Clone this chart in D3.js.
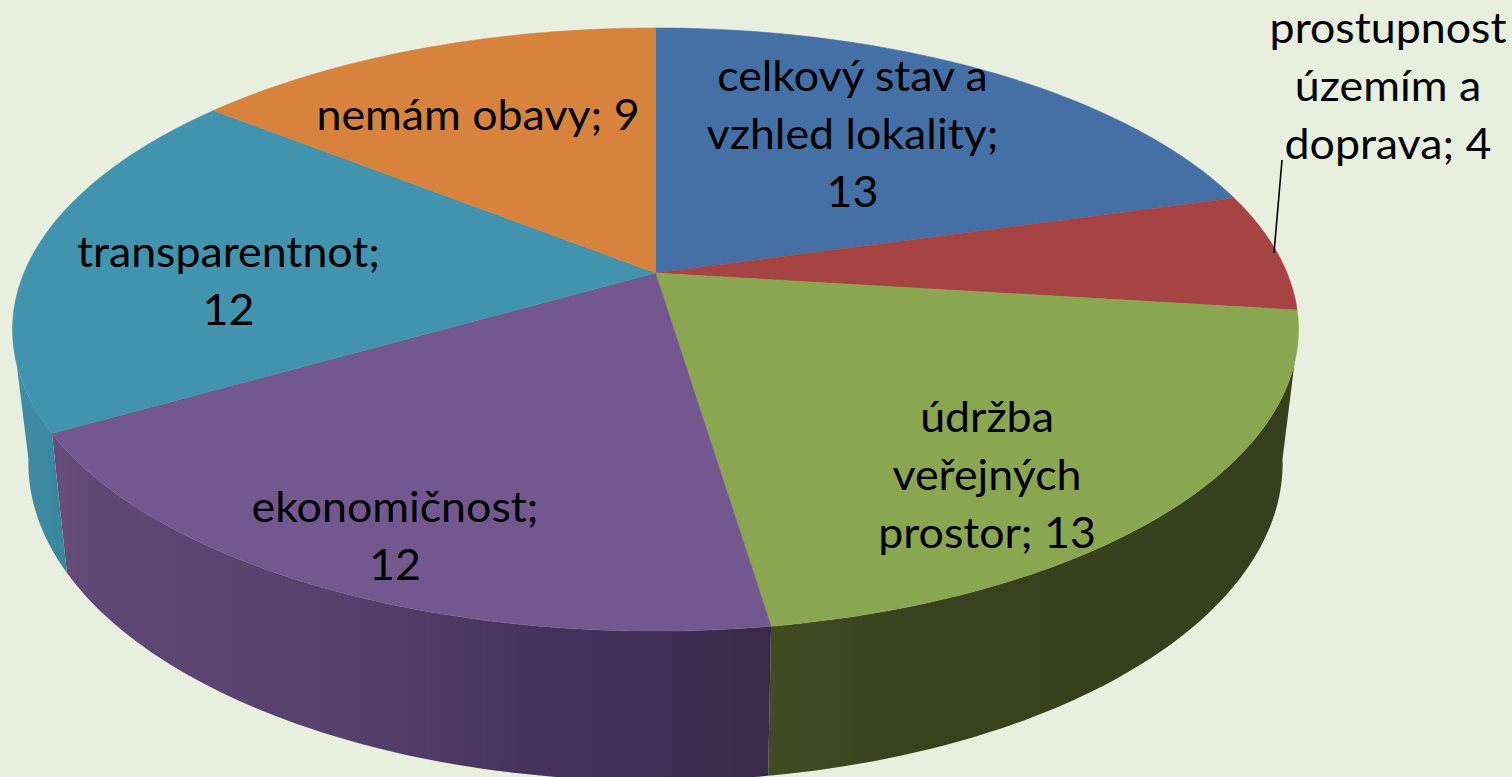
<!DOCTYPE html>
<html><head><meta charset="utf-8">
<script src="https://cdn.jsdelivr.net/npm/d3@7"></script>
<style>html,body{margin:0;padding:0;background:#e9efdf;overflow:hidden}svg{display:block}text{font-family:Lato,"Open Sans",sans-serif;fill:#000}</style>
</head><body><svg id="c" width="1512" height="777"></svg>
<script>
const categories = ["celkový stav a|vzhled lokality;", "prostupnost|územím a|doprava;", "údržba|veřejných|prostor;", "ekonomičnost;", "transparentnot;", "nemám obavy;"];
const values = [13, 4, 13, 12, 12, 9];
const valueOnNewLine = [true, false, false, true, true, false];
const colors = ["#4470a6", "#a64343", "#8aa650", "#72588e", "#4293ad", "#d7823d"];
const wallStops = [null, null,
  [[0, "#424c22"], [0.25, "#39421d"], [1, "#37401c"]],
  [[0, "#6a4d7e"], [0.06, "#5f4876"], [0.42, "#55406c"], [0.72, "#43315a"], [1, "#3a2a49"]],
  [[0, "#3f8ca6"], [1, "#3a869c"]],
  null];
const labelPos = [[852.5, 76], [1388, 28], [987, 417], [395, 507], [228.5, 252.7], [478, 115.3]];
const lineHeight = 58, fontSize = 42, textStretch = 1.065;

// perspective projection of a disc: t is the angle clockwise from the back
const topDisc = {x0: 655.5, y0: 273, b: 631.6, a: 291, p: 0.1874};
const bottomDisc = {x0: 655.5, y0: 403.7, b: 616, a: 306.6, p: 0.1874};
const proj = (d, t) => {
  const w = 1 + d.p * Math.cos(t);
  return [d.x0 + d.b * Math.sin(t) / w, d.y0 - d.a * Math.cos(t) / w];
};
const rad = Math.PI / 180;
const frontTop = [107 * rad, 253 * rad], frontBottom = [100 * rad, 260 * rad];

const svg = d3.select("#c");
const defs = svg.append("defs");
const line = d3.line();
const arcPts = (d, a, b) => d3.range(0, 61).map(i => proj(d, a + (b - a) * i / 60));

const arcs = d3.pie().sort(null).value(v => v).startAngle(0).endAngle(2 * Math.PI)(values);

// side walls
arcs.forEach((s, i) => {
  if (!wallStops[i]) return;
  const ta = Math.max(s.startAngle, frontTop[0]), tb = Math.min(s.endAngle, frontTop[1]);
  const ba = Math.max(s.startAngle, frontBottom[0]), bb = Math.min(s.endAngle, frontBottom[1]);
  const pts = arcPts(topDisc, ta, tb).concat(arcPts(bottomDisc, bb, ba));
  const xs = d3.extent(pts, p => p[0]);
  const g = defs.append("linearGradient").attr("id", "w" + i)
    .attr("gradientUnits", "userSpaceOnUse")
    .attr("x1", xs[0]).attr("x2", xs[1]).attr("y1", 0).attr("y2", 0);
  wallStops[i].forEach(st => g.append("stop").attr("offset", st[0]).attr("stop-color", st[1]));
  svg.append("path").attr("d", line(pts) + "Z").attr("fill", `url(#w${i})`);
});

// top face
arcs.forEach((s, i) => {
  const pts = [[topDisc.x0, topDisc.y0]].concat(arcPts(topDisc, s.startAngle, s.endAngle));
  svg.append("path").attr("d", line(pts) + "Z")
    .attr("fill", colors[i]).attr("stroke", colors[i]).attr("stroke-width", 0.5);
});

// leader line for the small slice
svg.append("path").attr("d", line([[1282, 160], [1274, 253]]))
  .attr("stroke", "#000").attr("stroke-width", 1.6).attr("fill", "none");

// labels
categories.forEach((c, i) => {
  const lines = c.split("|");
  if (valueOnNewLine[i]) lines.push(String(values[i]));
  else lines[lines.length - 1] += " " + values[i];
  lines.forEach((l, k) => svg.append("text")
    .attr("text-anchor", "middle").attr("font-size", fontSize)
    .attr("transform", `translate(${labelPos[i][0]},${labelPos[i][1] + k * lineHeight + fontSize * 0.35}) scale(${textStretch},1)`)
    .text(l));
});
</script></body></html>
